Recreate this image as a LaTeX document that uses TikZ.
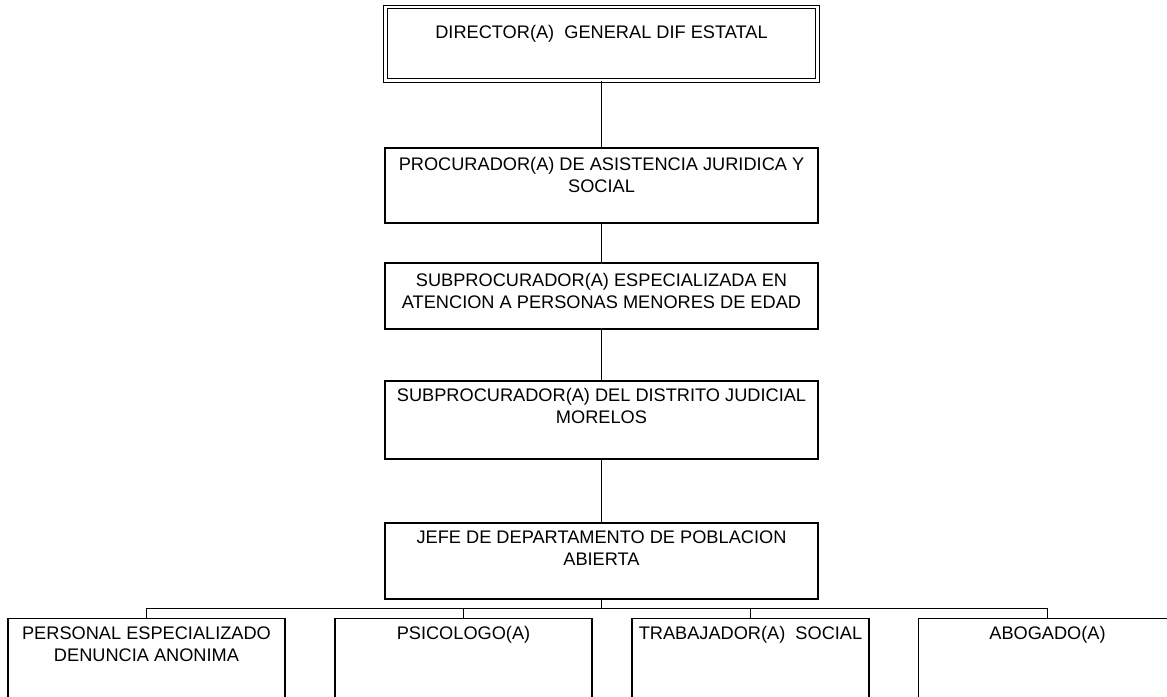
\documentclass[tikz,border=0pt]{standalone}
\usepackage{fontspec}
\setmainfont{Liberation Sans}
\usepackage{tikz}
\usetikzlibrary{positioning}

\begin{document}
\begin{tikzpicture}[x=1pt, y=-1pt, line width=1.1pt,
  box/.style={draw, rectangle, inner sep=0pt, minimum width=433pt},
  txt/.style={anchor=north, align=center, inner sep=0pt, font=\fontsize{18.2}{22}\selectfont}]
\useasboundingbox (0,0) rectangle (1167,696);

\node[box, double, double distance=2.8pt, line width=1pt, minimum width=432.5pt, minimum height=73.5pt,
  label={[txt, yshift=-18pt]90:{DIRECTOR(A)\ \ GENERAL DIF ESTATAL}}] (dir) at (601.5,43.75) {};
\node[box, minimum height=75pt,
  label={[txt, yshift=-9pt]90:{PROCURADOR(A) DE ASISTENCIA JURIDICA Y\\SOCIAL}}] (proc) at (601.5,185.5) {};
\node[box, minimum height=66pt,
  label={[txt, yshift=-10pt]90:{SUBPROCURADOR(A) ESPECIALIZADA EN\\ATENCION A PERSONAS MENORES DE EDAD}}] (subesp) at (601.5,296) {};
\node[box, minimum height=78pt,
  label={[txt, yshift=-7pt]90:{SUBPROCURADOR(A) DEL DISTRITO JUDICIAL\\MORELOS}}] (subdis) at (601.5,420) {};
\node[box, minimum height=76pt,
  label={[txt, yshift=-8pt]90:{JEFE DE DEPARTAMENTO DE POBLACION\\ABIERTA}}] (jefe) at (601.5,561) {};

\node[box, minimum width=277pt, minimum height=100pt,
  label={[txt, yshift=-8pt]90:{PERSONAL ESPECIALIZADO\\DENUNCIA ANONIMA}}] (pers) at (146.5,668.5) {};
\node[box, minimum width=257pt, minimum height=100pt,
  label={[txt, yshift=-8pt]90:{PSICOLOGO(A)}}] (psic) at (463.5,668.5) {};
\node[box, minimum width=237pt, minimum height=100pt,
  label={[txt, yshift=-8pt]90:{TRABAJADOR(A)\ \ SOCIAL}}] (trab) at (750.5,668.5) {};
\node[box, minimum width=258pt, minimum height=100pt,
  label={[txt, yshift=-8pt]90:{ABOGADO(A)}}] (abog) at (1047.5,668.5) {};

\coordinate (bus) at (601.5,608.5);

\draw (dir) -- (proc);
\draw (proc) -- (subesp);
\draw (subesp) -- (subdis);
\draw (subdis) -- (jefe);
\draw (jefe) -- (bus);
\draw (pers) |- (bus) -| (abog);
\draw (psic) |- (bus);
\draw (trab) |- (bus);
\end{tikzpicture}
\end{document}
